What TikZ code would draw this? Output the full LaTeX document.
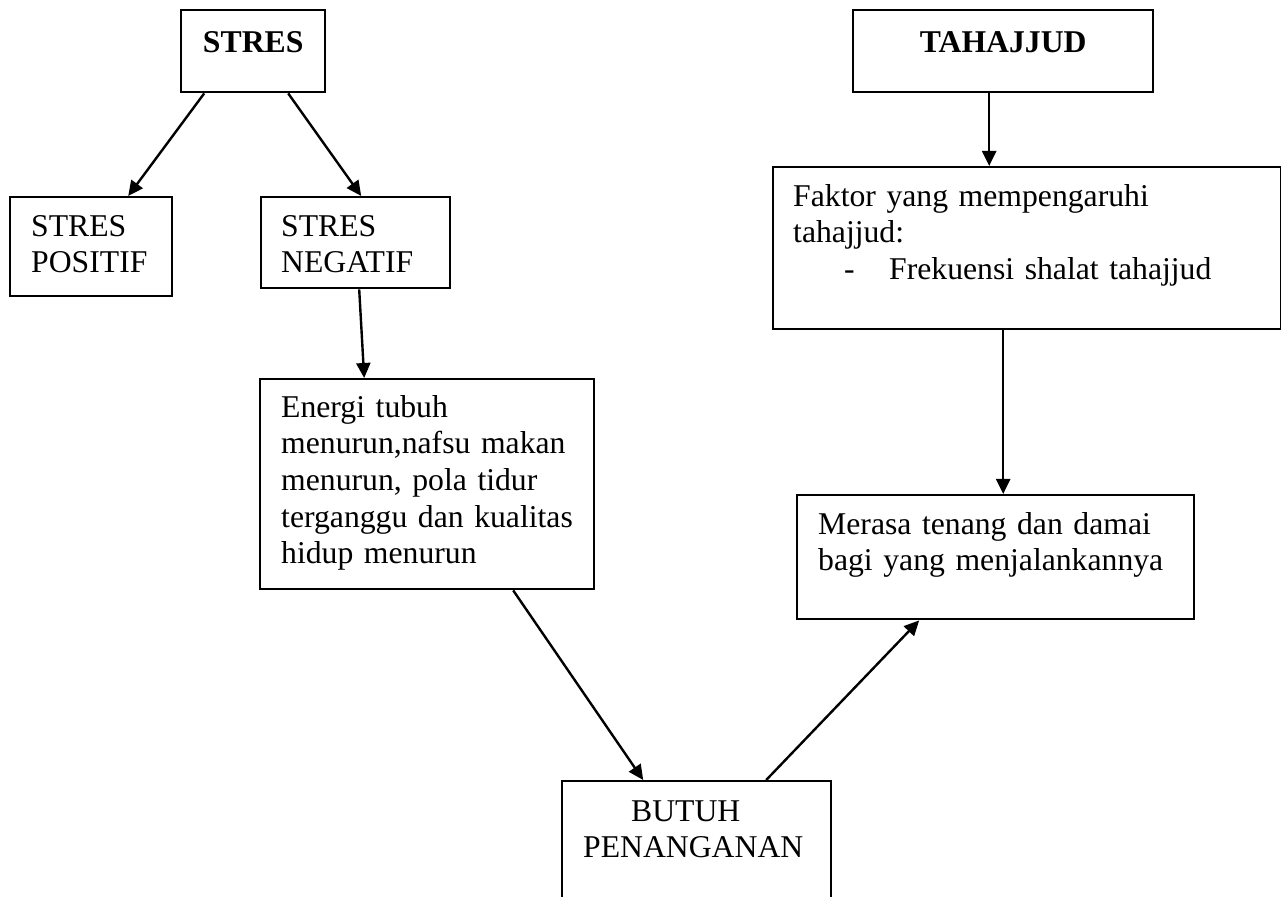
\documentclass[tikz,border=0pt]{standalone}
\usepackage{fontspec}
\setmainfont{Liberation Serif}
\usetikzlibrary{arrows.meta}

\begin{document}
\begin{tikzpicture}[
        x=0.5pt, y=-0.5pt,
        box/.style={rectangle, draw, line width=1.2pt, anchor=north west, inner ysep=0pt, align=left, font=\fontsize{15.85pt}{18.35pt}\selectfont},
        title/.style={box, inner xsep=0pt, align=center, text height=21pt, text depth=20pt, font=\fontsize{15.85pt}{18.35pt}\selectfont\bfseries},
        arrow/.style={line width=1.2pt, -{Triangle[length=7.5pt, width=7pt]}}
    ]
    \useasboundingbox (0,0) rectangle (1281,897);

    \node (stres) [title, text width=72pt] at (180,9) {STRES};
    \node (tahajjud) [title, text width=150pt] at (852,9) {TAHAJJUD};

    \node (positif) [box, inner xsep=10.5pt, text width=60pt, text height=19.5pt, text depth=30pt] at (9,196) {STRES\\POSITIF};
    \node (negatif) [box, inner xsep=10pt, text width=74.5pt, text height=19.5pt, text depth=26pt] at (260,196) {STRES\\NEGATIF};

    \node (energi) [box, inner xsep=10.5pt, text width=146pt, text height=19pt, text depth=86pt] at (259,378)
        {Energi tubuh\\menurun,nafsu makan\\menurun, pola tidur\\terganggu dan kualitas\\hidup menurun};

    \node (faktor) [box, inner xsep=10pt, text width=234pt, text height=19.5pt, text depth=61.5pt] at (772,166)
        {Faktor yang mempengaruhi\\tahajjud:\\\hspace*{25.5pt}\makebox[22.5pt][l]{-}Frekuensi shalat tahajjud};
    \node (merasa) [box, inner xsep=10.5pt, text width=177.5pt, text height=19.5pt, text depth=42.5pt] at (796,494)
        {Merasa tenang dan damai\\bagi yang menjalankannya};

    \node (butuh) [box, inner xsep=10.5pt, text width=113.5pt, text height=20pt, text depth=60pt] at (561,780)
        {\hspace*{24pt}BUTUH\\PENANGANAN};

    \draw [arrow] ([xshift=-24.5pt]stres.south) -- ([xshift=18.5pt]positif.north);
    \draw [arrow] ([xshift=17.5pt]stres.south) -- ([xshift=2.75pt]negatif.north);
    \draw [arrow] ([xshift=1.75pt]negatif.south) -- ([xshift=-31.5pt]energi.north);
    \draw [arrow] ([xshift=43pt]energi.south) -- ([xshift=-26.75pt]butuh.north);

    \draw [arrow] ([xshift=-7pt]tahajjud.south) -- ([xshift=-19pt]faktor.north);
    \draw [arrow] ([xshift=-12pt]faktor.south) -- ([xshift=3.75pt]merasa.north);
    \draw [arrow] ([xshift=34.75pt]butuh.north) -- ([xshift=-38.25pt]merasa.south);

\end{tikzpicture}
\end{document}
